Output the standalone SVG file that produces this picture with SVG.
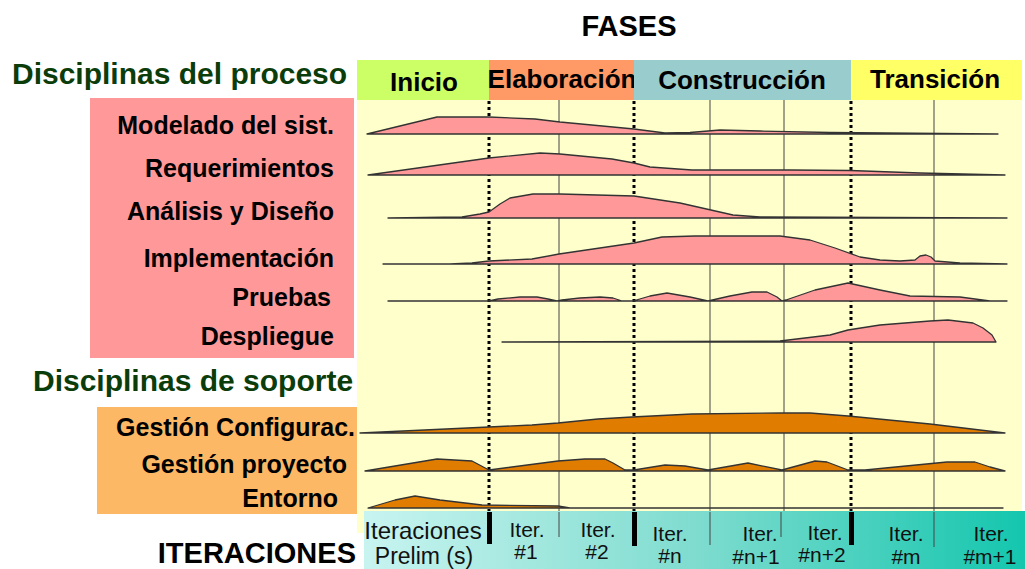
<svg xmlns="http://www.w3.org/2000/svg" width="1025" height="569" viewBox="0 0 1025 569">
<defs>
<linearGradient id="barGrad" x1="0" y1="0" x2="1" y2="0">
<stop offset="0" stop-color="#c8f4f0"/>
<stop offset="0.5" stop-color="#7fdccf"/>
<stop offset="1" stop-color="#14c6ae"/>
</linearGradient>
<style>
.b{font-family:"Liberation Sans",Arial,sans-serif;font-weight:bold}
.r{font-family:"Liberation Sans",Arial,sans-serif}
.title{font-size:29px;fill:#000}
.grp{font-size:30px;fill:#0b3d0b}
.phase{font-size:26px;fill:#000;text-anchor:middle}
.lbl{font-size:25px;fill:#000;text-anchor:end}
.it{font-size:21px;fill:#111;text-anchor:middle}
.pink{fill:#ff9999;stroke:#333;stroke-width:1.3;stroke-linejoin:round}
.orng{fill:#e07d00;stroke:#333;stroke-width:1.3;stroke-linejoin:round}
.dot{stroke:#000;stroke-width:3;stroke-dasharray:3 3}
.thin{stroke:#444;stroke-width:1}
.bar{fill:#000}
</style>
</defs>
<rect width="1025" height="569" fill="#fff"/>

<text class="b title" x="629" y="36" text-anchor="middle">FASES</text>

<!-- chart background -->
<rect id="chart-bg" x="357" y="100" width="665" height="433" fill="#ffffcc"/>

<!-- phase header -->
<g id="phases">
<g id="phase-inicio"><rect x="357" y="60" width="132" height="40" fill="#ccff66"/><text class="b phase" x="424" y="91">Inicio</text></g>
<g id="phase-elaboracion"><rect x="489" y="60" width="145" height="40" fill="#ff9966"/><text class="b phase" x="562" y="88">Elaboración</text></g>
<g id="phase-construccion"><rect x="634" y="60" width="217" height="40" fill="#99cccc"/><text class="b phase" x="742" y="89">Construcción</text></g>
<g id="phase-transicion"><rect x="851" y="60" width="171" height="40" fill="#ffff66"/><text class="b phase" x="935" y="88">Transición</text></g>
</g>

<!-- left labels -->
<text class="b grp" x="12" y="84">Disciplinas del proceso</text>
<g id="process-disciplines">
<rect x="90" y="98" width="264" height="260" fill="#ff9999"/>
<text class="b lbl" x="334" y="134">Modelado del sist.</text>
<text class="b lbl" x="334" y="177">Requerimientos</text>
<text class="b lbl" x="334" y="220">Análisis y Diseño</text>
<text class="b lbl" x="334" y="267">Implementación</text>
<text class="b lbl" x="331" y="306">Pruebas</text>
<text class="b lbl" x="334" y="345">Despliegue</text>
</g>
<text class="b grp" x="33" y="391">Disciplinas de soporte</text>
<g id="support-disciplines">
<rect x="97" y="407" width="260" height="107" fill="#fdb865"/>
<text class="b lbl" x="355" y="436">Gestión Configurac.</text>
<text class="b lbl" x="347" y="473">Gestión proyecto</text>
<text class="b lbl" x="338" y="507">Entorno</text>
</g>
<text class="b title" x="356" y="563" text-anchor="end">ITERACIONES</text>

<!-- vertical guide lines -->
<g id="guides">
<line class="thin" x1="559" y1="100" x2="559" y2="512"/>
<line class="thin" x1="710" y1="100" x2="710" y2="512"/>
<line class="thin" x1="784" y1="100" x2="784" y2="512"/>
<line class="thin" x1="934" y1="100" x2="934" y2="512" stroke="#888"/>
<line class="dot" x1="489" y1="101" x2="489" y2="512"/>
<line class="dot" x1="634" y1="101" x2="634" y2="512"/>
<line class="dot" x1="851" y1="101" x2="851" y2="512"/>
</g>

<!-- curves -->
<g id="curves">
<path id="c-modelado" class="pink" d="M367,134 L437,117 L489,117 L535,119 L560,122 L634,129 L665,133 L690,132.5 L720,130 L760,131 L830,132.5 L998,134 Z"/>
<path id="c-requerimientos" class="pink" d="M368,175 L489,158 L540,153 L560,154 L612,159 L634,163 L650,167 L692,170 L790,170 L850,170.5 L920,173 L1005,175 Z"/>
<path id="c-analisis" class="pink" d="M388,218 L462,217 L480,214 L489,212 L500,204 L510,198 L533,194 L560,194 L634,196 L680,203 L733,215 L760,217 L1007,218 Z"/>
<path id="c-implementacion" class="pink" d="M383,264 L450,264 L472,263 L489,261 L532,259 L559,254 L634,243 L662,237 L695,236 L780,236 L810,240 L835,248 L860,257 L880,260 L900,261 L915,260 L920,256 L926,255 L931,257 L935,261 L960,263 L1007,264 Z"/>
<path id="c-pruebas" class="pink" d="M388,301 L489,301 L498,299 L520,297 L537,297 L548,299 L557,301 L562,300 L580,298 L600,297 L613,298 L622,301 L633,301 L650,296 L667,293 L690,297 L708,301 L730,296 L752,292 L767,292 L777,297 L782,301 L786,300 L815,290 L848,283 L880,290 L910,296 L960,297 L990,301 L1007,301 Z"/>
<path id="c-despliegue" class="pink" d="M502,342 L780,341 L830,335 L848,330 L880,325 L930,321 L948,320 L973,323 L983,328 L992,335 L996,342 Z"/>
<path id="c-configuracion" class="orng" d="M360,433 L489,427 L532,425 L558,423 L598,419 L632,417 L692,414 L782,413 L810,413 L848,416 L930,424 L1005,433 Z"/>
<path id="c-proyecto" class="orng" d="M365,471 L437,459 L472,461 L489,470 L558,461 L585,459 L605,459 L613,463 L625,470 L634,470 L665,465 L685,466 L708,470 L748,463 L782,470 L815,461 L827,462 L848,470 L865,470 L947,462 L975,462 L990,467 L1005,471 Z"/>
<path id="c-entorno" class="orng" d="M368,508 L395,500 L415,496 L440,500 L482,505 L558,506 L570,508 L1003,508 Z"/>
</g>

<!-- iterations bar -->
<g id="iterations">
<rect x="364" y="511" width="661" height="58" fill="url(#barGrad)"/>
<rect class="bar" x="487" y="512" width="5" height="32"/>
<rect class="bar" x="632" y="512" width="5" height="34"/>
<rect class="bar" x="849" y="512" width="5" height="33"/>
<line class="thin" x1="559" y1="512" x2="559" y2="537"/>
<line class="thin" x1="710" y1="512" x2="710" y2="545"/>
<line class="thin" x1="781" y1="512" x2="781" y2="537"/>
<line class="thin" x1="934" y1="512" x2="934" y2="547" stroke="#666"/>
<text class="r it" x="423" y="539" style="font-size:24px">Iteraciones</text>
<text class="r it" x="424" y="564" style="font-size:23px">Prelim (s)</text>
<text class="r it" x="527" y="537">Iter.</text>
<text class="r it" x="526" y="559">#1</text>
<text class="r it" x="598" y="537">Iter.</text>
<text class="r it" x="597" y="559">#2</text>
<text class="r it" x="670" y="541">Iter.</text>
<text class="r it" x="670" y="563">#n</text>
<text class="r it" x="760" y="541">Iter.</text>
<text class="r it" x="756" y="564">#n+1</text>
<text class="r it" x="825" y="540">Iter.</text>
<text class="r it" x="822" y="562">#n+2</text>
<text class="r it" x="906" y="541">Iter.</text>
<text class="r it" x="906" y="564">#m</text>
<text class="r it" x="991" y="541">Iter.</text>
<text class="r it" x="990" y="564">#m+1</text>
</g>
</svg>
